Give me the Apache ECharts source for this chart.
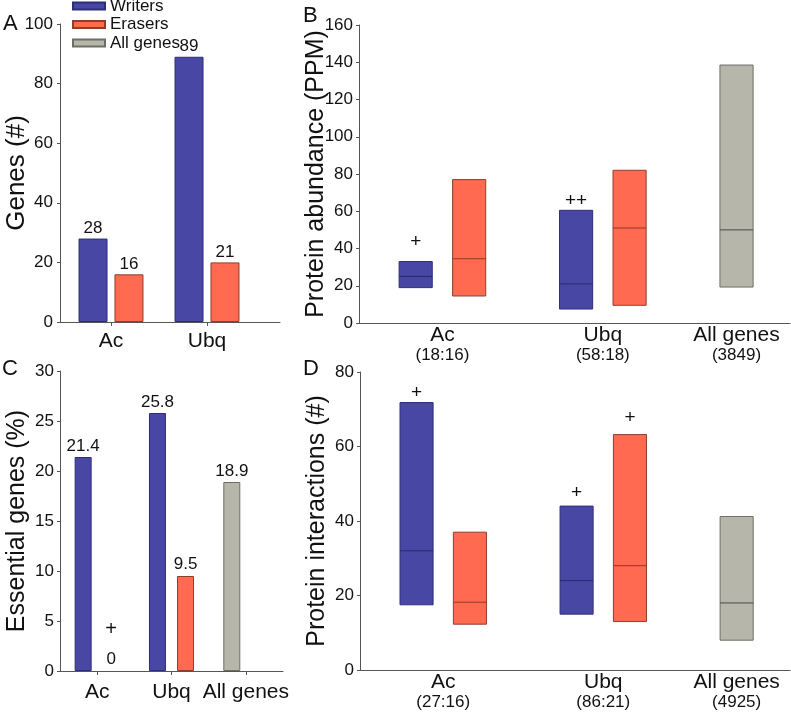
<!DOCTYPE html>
<html>
<head>
<meta charset="utf-8">
<script src="https://cdn.jsdelivr.net/npm/echarts@6/dist/echarts.min.js"></script>
<style>
html,body{margin:0;padding:0;background:#fff;}
#chart{width:791px;height:717px;}
</style>
</head>
<body>
<div id="chart"></div>
<script>
// ---------- DATA ----------
// Panel A: number of genes
const genesCats = ['Ac', 'Ubq'];
const genesWriters = [28, 89];
const genesErasers = [16, 20];
const genesWritersLabels = ['28', '89'];
const genesErasersLabels = ['16', '21'];

// Panel B: protein abundance (PPM) boxes (lo, median, hi)
const groupCats = ['Ac', 'Ubq', 'All genes'];
const abundCounts = ['(18:16)', '(58:18)', '(3849)'];
const abundWritersLo = [19, 7.5];
const abundWritersMed = [25, 21];
const abundWritersHi = [33, 60.5];
const abundErasersLo = [14.5, 9.5];
const abundErasersMed = [34.5, 51];
const abundErasersHi = [77, 82];
const abundAllLo = [19.3];
const abundAllMed = [50];
const abundAllHi = [138.5];
const abundWritersMark = ['+', '++'];
const abundWritersMarkY = [43.6, 65.5];
const abundErasersMark = ['', ''];
const abundErasersMarkY = [null, null];

// Panel C: essential genes (%)
const essCats = ['Ac', 'Ubq', 'All genes'];
const essWriters = [21.4, 25.8, '-'];
const essErasers = [0, 9.5, '-'];
const essAll = ['-', '-', 18.9];
const essErasersMark = ['+', '', ''];

// Panel D: protein interactions (#)
const intCounts = ['(27:16)', '(86:21)', '(4925)'];
const intWritersLo = [17.5, 15];
const intWritersMed = [32, 24];
const intWritersHi = [71.8, 44];
const intErasersLo = [12.3, 13];
const intErasersMed = [18.2, 28];
const intErasersHi = [37, 63.2];
const intAllLo = [8];
const intAllMed = [18];
const intAllHi = [41.2];
const intWritersMark = ['+', '+'];
const intWritersMarkY = [74.4, 47.5];
const intErasersMark = ['', '+'];
const intErasersMarkY = [null, 67.6];

// ---------- STYLE ----------
const FONT = '"Liberation Sans", Arial, Helvetica, sans-serif';
const TXT = '#111';
const AX = '#555';
const BLUE = '#4848A4', BLUE_B = '#2E2E78', BLUE_M = '#28286A';
const ORANGE = '#FF6A50', ORANGE_B = '#8E3E2E', ORANGE_M = '#8A3A2A';
const GRAY = '#B6B6AA', GRAY_B = '#6E6E66', GRAY_M = '#4A4A44';

// slot positions on the box panels: group i -> 3*i (+1 for erasers); All genes single box at 6
function slot(groupIdx, sub) { return 3 * groupIdx + sub; }
const labelPos = [slot(0, 0.5), slot(1, 0.5), slot(2, 0)];

function boxData(lo, med, hi, groupOffset, sub) {
  return lo.map((v, i) => [slot(i + groupOffset, sub), v, med[i], hi[i]]);
}

function boxSeries(name, xi, yi, data, fill, stroke, medCol, marks, marksY) {
  return {
    type: 'custom', name, xAxisIndex: xi, yAxisIndex: yi,
    encode: { x: 0, y: [1, 2, 3] },
    data,
    itemStyle: { color: fill },
    renderItem: function (params, api) {
      const x = api.value(0);
      const pTop = api.coord([x, api.value(3)]);
      const pBot = api.coord([x, api.value(1)]);
      const pMed = api.coord([x, api.value(2)]);
      const w = api.size([0.62, 0])[0];
      const children = [
        { type: 'rect', shape: { x: pTop[0] - w / 2, y: pTop[1], width: w, height: pBot[1] - pTop[1] },
          style: { fill: fill, stroke: stroke, lineWidth: 1 } },
        { type: 'line', shape: { x1: pTop[0] - w / 2, y1: pMed[1], x2: pTop[0] + w / 2, y2: pMed[1] },
          style: { stroke: medCol, lineWidth: 1 } }
      ];
      const i = params.dataIndex;
      if (marks && marks[i]) {
        const pm = api.coord([x, marksY[i]]);
        children.push({ type: 'text', x: pm[0], y: pm[1],
          style: { text: marks[i], fill: TXT, font: '19px ' + FONT, align: 'center', verticalAlign: 'middle' } });
      }
      return { type: 'group', children };
    }
  };
}

function yAx(grid, max, interval, name, opts) {
  return Object.assign({
    type: 'value', gridIndex: grid, min: 0, max, interval,
    name, nameLocation: 'middle', nameGap: 30, nameRotate: 90, nameMoveOverlap: false,
    nameTextStyle: { fontSize: 25, color: TXT, fontFamily: FONT },
    axisLine: { show: true, onZero: false, lineStyle: { color: AX } },
    axisTick: { show: true, length: 3, lineStyle: { color: AX } },
    axisLabel: { fontSize: 17, color: TXT, fontFamily: FONT, margin: 6 },
    splitLine: { show: false }
  }, opts || {});
}

function boxXAxis(grid, counts) {
  return {
    type: 'value', gridIndex: grid, min: -1.06, max: 7,
    axisLine: { show: true, onZero: false, lineStyle: { color: AX } },
    axisTick: { show: false }, splitLine: { show: false },
    axisLabel: {
      customValues: labelPos, margin: 2, color: TXT, fontFamily: FONT,
      formatter: function (v) {
        let idx = 0, best = 1e9;
        labelPos.forEach((p, i) => { if (Math.abs(p - v) < best) { best = Math.abs(p - v); idx = i; } });
        return '{n|' + groupCats[idx] + '}\n{c|' + counts[idx] + '}';
      },
      rich: {
        n: { fontSize: 21, lineHeight: 21, fontFamily: FONT, color: TXT },
        c: { fontSize: 17, lineHeight: 18, fontFamily: FONT, color: TXT }
      }
    }
  };
}

const chart = echarts.init(document.getElementById('chart'), null, { renderer: 'canvas' });

const option = {
  backgroundColor: '#fff',
  animation: false,
  textStyle: { fontFamily: FONT },
  legend: {
    data: ['Writers', 'Erasers', 'All genes'],
    orient: 'vertical', left: 72, top: -3, padding: 0,
    itemWidth: 32, itemHeight: 7, itemGap: 0.5, icon: 'rect',
    textStyle: { fontSize: 17, lineHeight: 18, color: TXT, fontFamily: FONT },
    selectedMode: false
  },
  grid: [
    { left: 60, top: 24, width: 220, height: 298, outerBoundsMode: 'none' },
    { left: 63, top: 24, width: 192, height: 298, outerBoundsMode: 'none' },
    { left: 359, top: 25, width: 431, height: 298, outerBoundsMode: 'none' },
    { left: 60, top: 371, width: 223, height: 300, outerBoundsMode: 'none' },
    { left: 360, top: 372, width: 430, height: 298, outerBoundsMode: 'none' }
  ],
  xAxis: [
    { type: 'value', gridIndex: 0, min: 0, max: 1, axisLine: { show: true, onZero: false, lineStyle: { color: AX } },
      axisTick: { show: false }, axisLabel: { show: false }, splitLine: { show: false } },
    { type: 'category', gridIndex: 1, data: genesCats, axisLine: { show: false },
      axisTick: { show: true, alignWithLabel: true, length: 4, lineStyle: { color: AX } },
      axisLabel: { fontSize: 21, color: TXT, fontFamily: FONT, margin: 9, interval: 0 } },
    boxXAxis(2, abundCounts),
    { type: 'category', gridIndex: 3, data: essCats,
      axisLine: { show: true, onZero: false, lineStyle: { color: AX } },
      axisTick: { show: true, alignWithLabel: true, length: 4, lineStyle: { color: AX } },
      axisLabel: { fontSize: 21, color: TXT, fontFamily: FONT, margin: 11, interval: 0, hideOverlap: false } },
    boxXAxis(4, intCounts)
  ],
  yAxis: [
    yAx(0, 100, 20, 'Genes (#)', { nameGap: 30, nameTextStyle: { fontSize: 26, color: TXT, fontFamily: FONT }, axisLabel: { fontSize: 17, color: TXT, fontFamily: FONT, margin: 7 } }),
    { type: 'value', gridIndex: 1, min: 0, max: 100, show: false },
    yAx(2, 160, 20, 'Protein abundance (PPM)'),
    yAx(3, 30, 5, 'Essential genes (%)'),
    yAx(4, 80, 20, 'Protein interactions (#)')
  ],
  graphic: [
    { type: 'text', left: 3, top: 13, style: { text: 'A', font: '22px ' + FONT, fill: TXT } },
    { type: 'text', left: 303, top: 5, style: { text: 'B', font: '22px ' + FONT, fill: TXT } },
    { type: 'text', left: 2, top: 358, style: { text: 'C', font: '22px ' + FONT, fill: TXT } },
    { type: 'text', left: 303, top: 358, style: { text: 'D', font: '22px ' + FONT, fill: TXT } }
  ],
  series: [
    // Panel A
    { type: 'bar', name: 'Writers', xAxisIndex: 1, yAxisIndex: 1, data: genesWriters,
      barWidth: 29, barGap: '24%',
      itemStyle: { color: BLUE, borderColor: BLUE_B, borderWidth: 1 },
      label: { show: true, position: 'top', distance: 2, fontSize: 17, color: TXT, fontFamily: FONT,
        formatter: p => genesWritersLabels[p.dataIndex] } },
    { type: 'bar', name: 'Erasers', xAxisIndex: 1, yAxisIndex: 1, data: genesErasers,
      barWidth: 29, barGap: '24%',
      itemStyle: { color: ORANGE, borderColor: ORANGE_B, borderWidth: 1 },
      label: { show: true, position: 'top', distance: 2, fontSize: 17, color: TXT, fontFamily: FONT,
        formatter: p => genesErasersLabels[p.dataIndex] } },
    // Panel C
    { type: 'bar', name: 'Writers', xAxisIndex: 3, yAxisIndex: 3, data: essWriters, stack: 'left',
      barWidth: 17, barGap: '65%',
      itemStyle: { color: BLUE, borderColor: BLUE_B, borderWidth: 1 },
      label: { show: true, position: 'top', distance: 2, fontSize: 17, color: TXT, fontFamily: FONT } },
    { type: 'bar', name: 'All genes', xAxisIndex: 3, yAxisIndex: 3, data: essAll, stack: 'left',
      barWidth: 17, barGap: '65%',
      itemStyle: { color: GRAY, borderColor: GRAY_B, borderWidth: 1 },
      label: { show: true, position: 'top', distance: 2, fontSize: 17, color: TXT, fontFamily: FONT } },
    { type: 'bar', name: 'Erasers', xAxisIndex: 3, yAxisIndex: 3, stack: 'right',
      data: essErasers.map(v => v === 0 ? { value: v, itemStyle: { borderWidth: 0 } } : v),
      barWidth: 17, barGap: '65%',
      itemStyle: { color: ORANGE, borderColor: ORANGE_B, borderWidth: 1 },
      label: { show: true, position: 'top', distance: 2, color: TXT, fontFamily: FONT,
        formatter: p => (essErasersMark[p.dataIndex] ? '{p|' + essErasersMark[p.dataIndex] + '}\n' : '') + '{v|' + p.value + '}',
        rich: { p: { fontSize: 20, lineHeight: 42, fontFamily: FONT, color: TXT },
                v: { fontSize: 17, lineHeight: 19, fontFamily: FONT, color: TXT } } } },
    // Panel B
    boxSeries('Writers', 2, 2, boxData(abundWritersLo, abundWritersMed, abundWritersHi, 0, 0), BLUE, BLUE_B, BLUE_M, abundWritersMark, abundWritersMarkY),
    boxSeries('Erasers', 2, 2, boxData(abundErasersLo, abundErasersMed, abundErasersHi, 0, 1), ORANGE, ORANGE_B, ORANGE_M, abundErasersMark, abundErasersMarkY),
    boxSeries('All genes', 2, 2, boxData(abundAllLo, abundAllMed, abundAllHi, 2, 0), GRAY, GRAY_B, GRAY_M, null, null),
    // Panel D
    boxSeries('Writers', 4, 4, boxData(intWritersLo, intWritersMed, intWritersHi, 0, 0), BLUE, BLUE_B, BLUE_M, intWritersMark, intWritersMarkY),
    boxSeries('Erasers', 4, 4, boxData(intErasersLo, intErasersMed, intErasersHi, 0, 1), ORANGE, ORANGE_B, ORANGE_M, intErasersMark, intErasersMarkY),
    boxSeries('All genes', 4, 4, boxData(intAllLo, intAllMed, intAllHi, 2, 0), GRAY, GRAY_B, GRAY_M, null, null)
  ]
};
chart.setOption(option);
</script>
</body>
</html>
